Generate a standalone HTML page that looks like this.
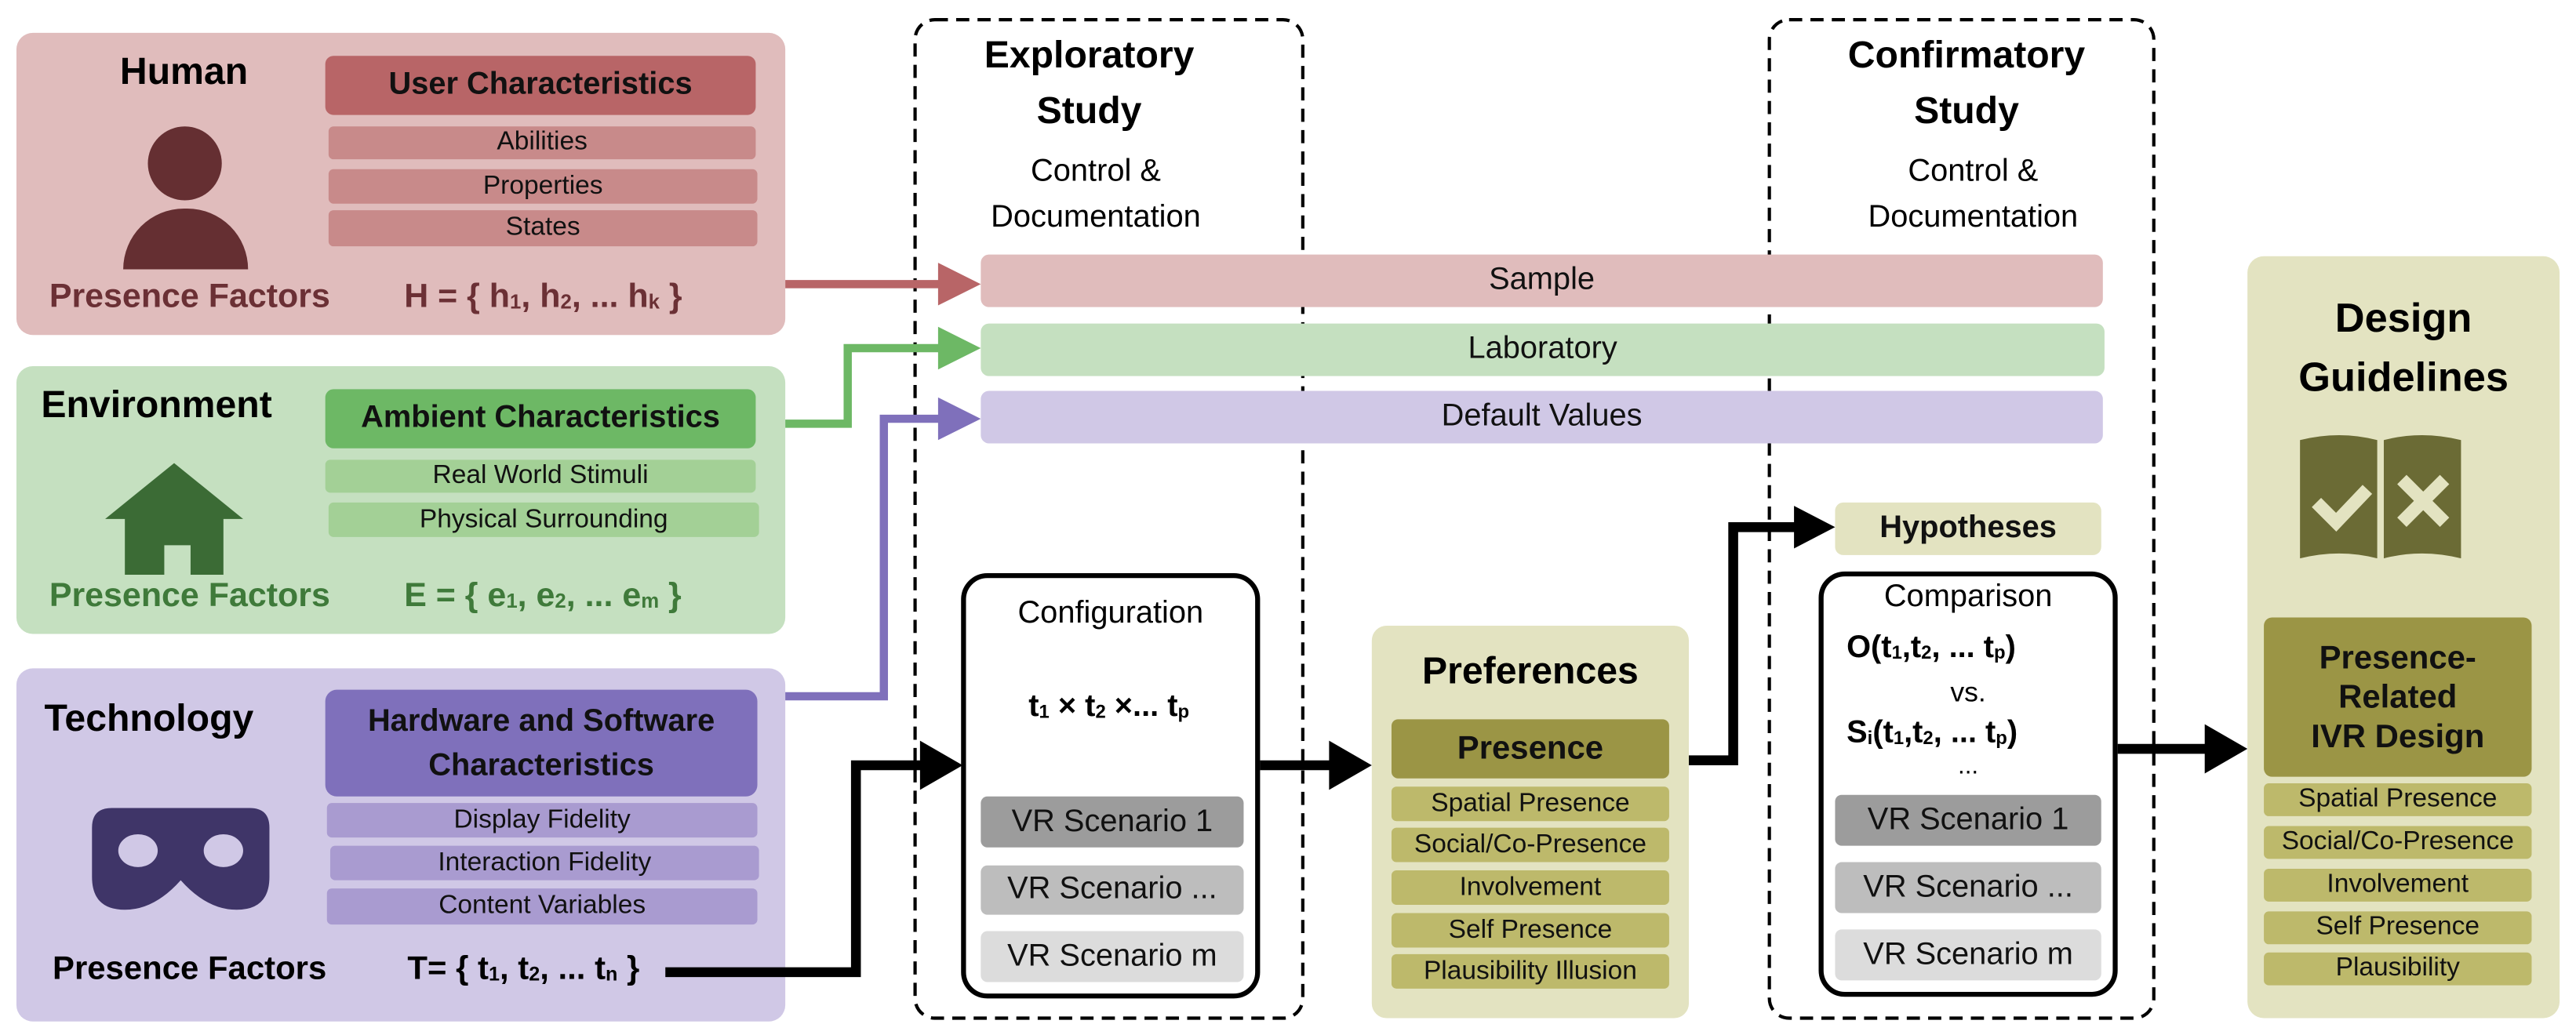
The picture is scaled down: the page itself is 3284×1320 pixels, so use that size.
<!DOCTYPE html>
<html><head><meta charset="utf-8"><style>
html,body{margin:0;padding:0;background:#fff;}
body{width:3284px;height:1320px;overflow:hidden;position:relative;}
#w{position:absolute;left:0;top:0;width:1568px;height:630px;transform:scale(2.0944);transform-origin:0 0;font-family:"Liberation Sans",sans-serif;}
.a{position:absolute;box-sizing:border-box;}
.t{position:absolute;white-space:nowrap;text-align:center;}
.b{font-weight:bold;}
.row{position:absolute;border-radius:3px;display:flex;align-items:center;justify-content:center;font-size:16px;color:#111;white-space:nowrap;}
sub{font-size:60%;vertical-align:-1px;}
</style></head><body><div id="w">

<svg class="a" style="left:0;top:0" width="1568" height="630" viewBox="0 0 1568 630">
 <rect x="557" y="12" width="236" height="608" rx="12" fill="none" stroke="#000" stroke-width="2" stroke-dasharray="8,5"/>
 <rect x="1077" y="12" width="234" height="608" rx="12" fill="none" stroke="#000" stroke-width="2" stroke-dasharray="8,5"/>
</svg>

<!-- Human -->
<div class="a" style="left:10px;top:20px;width:468px;height:184px;background:#e0bcbc;border-radius:10px;"></div>
<div class="t b" style="left:62px;top:30px;width:100px;font-size:23px;">Human</div>
<div class="a" style="left:90px;top:77px;width:45px;height:45px;border-radius:50%;background:#652f32;"></div>
<div class="a" style="left:75px;top:127px;width:76px;height:37px;border-radius:38px 38px 0 0;background:#652f32;"></div>
<div class="row b" style="left:198px;top:34px;width:262px;height:36px;background:#b86567;font-size:19px;border-radius:5px;">User Characteristics</div>
<div class="row" style="left:200px;top:77px;width:260px;height:20px;background:#c88a8a;">Abilities</div>
<div class="row" style="left:200px;top:103px;width:261px;height:21px;background:#c88a8a;">Properties</div>
<div class="row" style="left:200px;top:128px;width:261px;height:22px;background:#c88a8a;">States</div>
<div class="t b" style="left:30px;top:169px;font-size:20.5px;color:#6b3035;text-align:left;">Presence Factors</div>
<div class="t b" style="left:246px;top:169px;font-size:20.5px;color:#6b3035;text-align:left;">H = { h<sub>1</sub>, h<sub>2</sub>, ... h<sub>k</sub> }</div>

<!-- Environment -->
<div class="a" style="left:10px;top:223px;width:468px;height:163px;background:#c5e0c0;border-radius:10px;"></div>
<div class="t b" style="left:25px;top:233px;font-size:23px;text-align:left;">Environment</div>
<svg class="a" style="left:62px;top:280px" width="88" height="72" viewBox="0 0 88 72"><polygon points="44,2 86,36 74,36 74,70 54,70 54,52 38,52 38,70 14,70 14,36 2,36" fill="#3b6b35"/></svg>
<div class="row b" style="left:198px;top:237px;width:262px;height:36px;background:#6db865;font-size:19px;border-radius:5px;">Ambient Characteristics</div>
<div class="row" style="left:198px;top:280px;width:262px;height:20px;background:#a3d096;">Real World Stimuli</div>
<div class="row" style="left:200px;top:306px;width:262px;height:21px;background:#a3d096;">Physical Surrounding</div>
<div class="t b" style="left:30px;top:351px;font-size:20.5px;color:#3f7a3a;text-align:left;">Presence Factors</div>
<div class="t b" style="left:246px;top:351px;font-size:20.5px;color:#3f7a3a;text-align:left;">E = { e<sub>1</sub>, e<sub>2</sub>, ... e<sub>m</sub> }</div>

<!-- Technology -->
<div class="a" style="left:10px;top:407px;width:468px;height:215px;background:#d0c8e6;border-radius:10px;"></div>
<div class="t b" style="left:27px;top:424px;font-size:23px;text-align:left;">Technology</div>
<svg class="a" style="left:54px;top:490px" width="112" height="66" viewBox="0 0 112 66"><path d="M14,2 H98 Q110,2 110,14 V44 Q110,64 90,64 Q72,64 56,46 Q40,64 22,64 Q2,64 2,44 V14 Q2,2 14,2 Z" fill="#3f3568"/><ellipse cx="30" cy="28" rx="12" ry="10" fill="#d0c8e6"/><ellipse cx="82" cy="28" rx="12" ry="10" fill="#d0c8e6"/></svg>
<div class="row b" style="left:198px;top:420px;width:263px;height:65px;background:#7f70bb;font-size:19px;border-radius:7px;line-height:27px;white-space:normal;text-align:center;">Hardware and Software<br>Characteristics</div>
<div class="row" style="left:199px;top:489px;width:262px;height:21px;background:#a99bd0;">Display Fidelity</div>
<div class="row" style="left:201px;top:515px;width:261px;height:21px;background:#a99bd0;">Interaction Fidelity</div>
<div class="row" style="left:199px;top:541px;width:262px;height:22px;background:#a99bd0;">Content Variables</div>
<div class="t b" style="left:32px;top:579px;font-size:20px;text-align:left;">Presence Factors</div>
<div class="t b" style="left:248px;top:579px;font-size:20px;text-align:left;">T= { t<sub>1</sub>, t<sub>2</sub>, ... t<sub>n</sub> }</div>

<!-- Exploratory -->
<div class="t b" style="left:563px;top:16px;width:200px;font-size:23px;line-height:34px;">Exploratory<br>Study</div>
<div class="t" style="left:567px;top:91px;width:200px;font-size:19px;line-height:28px;">Control &amp;<br>Documentation</div>

<div class="row" style="left:597px;top:155px;width:683px;height:32px;background:#e0bcbc;font-size:19px;border-radius:5px;">Sample</div>
<div class="row" style="left:597px;top:197px;width:684px;height:32px;background:#c5e0c0;font-size:19px;border-radius:5px;">Laboratory</div>
<div class="row" style="left:597px;top:238px;width:683px;height:32px;background:#d0c8e6;font-size:19px;border-radius:5px;">Default Values</div>

<!-- Configuration -->
<div class="a" style="left:585px;top:349px;width:182px;height:259px;border:3px solid #000;border-radius:16px;background:#fff;"></div>
<div class="t" style="left:585px;top:363px;width:182px;font-size:19px;">Configuration</div>
<div class="t b" style="left:585px;top:420px;width:180px;font-size:19px;">t<sub>1</sub> × t<sub>2</sub> ×... t<sub>p</sub></div>
<div class="row" style="left:597px;top:485px;width:160px;height:31px;background:#9c9c9c;font-size:19px;border-radius:4px;">VR Scenario 1</div>
<div class="row" style="left:597px;top:527px;width:160px;height:30px;background:#bdbdbd;font-size:19px;border-radius:4px;">VR Scenario ...</div>
<div class="row" style="left:597px;top:567px;width:160px;height:31px;background:#dcdcdc;font-size:19px;border-radius:4px;">VR Scenario m</div>

<!-- Preferences -->
<div class="a" style="left:835px;top:381px;width:193px;height:239px;background:#e3e3c1;border-radius:9px;"></div>
<div class="t b" style="left:835px;top:395px;width:193px;font-size:23px;">Preferences</div>
<div class="row b" style="left:847px;top:438px;width:169px;height:36px;background:#9b9545;font-size:20px;border-radius:4px;">Presence</div>
<div class="row" style="left:847px;top:479px;width:169px;height:21px;background:#bdb96b;">Spatial Presence</div>
<div class="row" style="left:847px;top:504px;width:169px;height:21px;background:#bdb96b;">Social/Co-Presence</div>
<div class="row" style="left:847px;top:530px;width:169px;height:21px;background:#bdb96b;">Involvement</div>
<div class="row" style="left:847px;top:556px;width:169px;height:21px;background:#bdb96b;">Self Presence</div>
<div class="row" style="left:847px;top:581px;width:169px;height:21px;background:#bdb96b;">Plausibility Illusion</div>

<!-- Confirmatory -->
<div class="t b" style="left:1097px;top:16px;width:200px;font-size:23px;line-height:34px;">Confirmatory<br>Study</div>
<div class="t" style="left:1101px;top:91px;width:200px;font-size:19px;line-height:28px;">Control &amp;<br>Documentation</div>
<div class="row b" style="left:1117px;top:306px;width:162px;height:32px;background:#e3e3c1;font-size:19px;border-radius:5px;">Hypotheses</div>
<div class="a" style="left:1107px;top:348px;width:182px;height:259px;border:3px solid #000;border-radius:16px;background:#fff;"></div>
<div class="t" style="left:1107px;top:353px;width:182px;font-size:19px;">Comparison</div>
<div class="t b" style="left:1124px;top:384px;font-size:19px;text-align:left;">O(t<sub>1</sub>,t<sub>2</sub>, ... t<sub>p</sub>)</div>
<div class="t" style="left:1107px;top:412px;width:182px;font-size:17px;">vs.</div>
<div class="t b" style="left:1124px;top:436px;font-size:19px;text-align:left;">S<sub>i</sub>(t<sub>1</sub>,t<sub>2</sub>, ... t<sub>p</sub>)</div>
<div class="t" style="left:1107px;top:458px;width:182px;font-size:15px;">...</div>
<div class="row" style="left:1117px;top:484px;width:162px;height:31px;background:#9c9c9c;font-size:19px;border-radius:4px;">VR Scenario 1</div>
<div class="row" style="left:1117px;top:525px;width:162px;height:31px;background:#bdbdbd;font-size:19px;border-radius:4px;">VR Scenario ...</div>
<div class="row" style="left:1117px;top:566px;width:162px;height:31px;background:#dcdcdc;font-size:19px;border-radius:4px;">VR Scenario m</div>

<!-- Design Guidelines -->
<div class="a" style="left:1368px;top:156px;width:190px;height:464px;background:#e3e3c1;border-radius:10px;"></div>
<div class="t b" style="left:1368px;top:176px;width:190px;font-size:25px;line-height:36px;">Design<br>Guidelines</div>
<svg class="a" style="left:1398px;top:264px" width="102" height="76" viewBox="0 0 102 76"><path d="M2,4 Q26,-2 49,4 V76 Q26,70 2,76 Z" fill="#6b6b35"/><path d="M53,4 Q76,-2 100,4 V76 Q76,70 53,76 Z" fill="#6b6b35"/><polyline points="12,42 24,54 43,34" fill="none" stroke="#e3e3c1" stroke-width="8"/><path d="M64,28 L90,54 M90,28 L64,54" stroke="#e3e3c1" stroke-width="8"/></svg>
<div class="row b" style="left:1378px;top:376px;width:163px;height:97px;background:#9b9545;font-size:20px;border-radius:5px;white-space:normal;text-align:center;line-height:24px;">Presence-<br>Related<br>IVR Design</div>
<div class="row" style="left:1378px;top:477px;width:163px;height:20px;background:#bdb96b;">Spatial Presence</div>
<div class="row" style="left:1378px;top:503px;width:163px;height:20px;background:#bdb96b;">Social/Co-Presence</div>
<div class="row" style="left:1378px;top:529px;width:163px;height:20px;background:#bdb96b;">Involvement</div>
<div class="row" style="left:1378px;top:555px;width:163px;height:20px;background:#bdb96b;">Self Presence</div>
<div class="row" style="left:1378px;top:580px;width:163px;height:20px;background:#bdb96b;">Plausibility</div>

<!-- connectors on top -->
<svg class="a" style="left:0;top:0" width="1568" height="630" viewBox="0 0 1568 630">
 <polyline points="478,173 575,173" fill="none" stroke="#b86567" stroke-width="5"/>
 <polygon points="571,160 597,173 571,186" fill="#b86567"/>
 <polyline points="478,258 516,258 516,212 575,212" fill="none" stroke="#6db865" stroke-width="5"/>
 <polygon points="571,199 597,212 571,225" fill="#6db865"/>
 <polyline points="478,424 538,424 538,255 575,255" fill="none" stroke="#7f70bb" stroke-width="5"/>
 <polygon points="571,242 597,255 571,268" fill="#7f70bb"/>
 <polyline points="405,592 521,592 521,466 565,466" fill="none" stroke="#000" stroke-width="6"/>
 <polygon points="560,451 586,466 560,481" fill="#000"/>
 <polyline points="767,466 812,466" fill="none" stroke="#000" stroke-width="6"/>
 <polygon points="809,451 835,466 809,481" fill="#000"/>
 <polyline points="1028,463 1055,463 1055,321 1095,321" fill="none" stroke="#000" stroke-width="6"/>
 <polygon points="1092,308 1117,321 1092,334" fill="#000"/>
 <polyline points="1289,456 1345,456" fill="none" stroke="#000" stroke-width="6"/>
 <polygon points="1342,441 1368,456 1342,471" fill="#000"/>
</svg>

</div></body></html>
